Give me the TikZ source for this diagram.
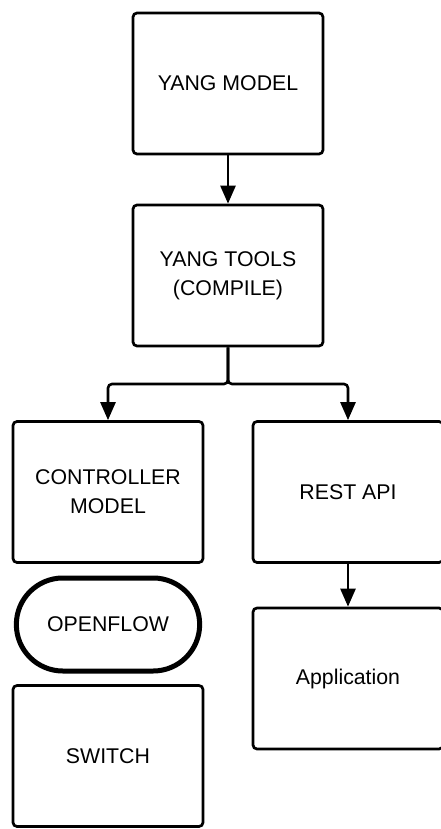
\documentclass[tikz,border=0pt]{standalone}
\usepackage{fontspec}
\setmainfont{Liberation Sans}
\usepackage{tikz}
\usetikzlibrary{positioning, arrows.meta, shapes.misc}

\tikzset{
  block/.style={draw, line width=2.7pt, rounded corners=4pt, minimum width=190pt, minimum height=141pt, align=center, font=\fontsize{21.3}{29}\selectfont},
  pill/.style={draw, line width=5pt, rounded rectangle, minimum width=190pt, minimum height=93pt, align=center, font=\fontsize{21.3}{29}\selectfont},
  link/.style={line width=2.6pt, -{Triangle[length=18pt, width=15pt]}}
}

\begin{document}
\begin{tikzpicture}[x=1pt, y=-1pt]
\useasboundingbox (0,0) rectangle (441,829);
% Boxes
\node[block] (yang) at (228,83.5) {YANG MODEL};
\node[block] (tools) at (228,275.5) {YANG TOOLS\\(COMPILE)};
\node[block] (ctrl) at (108,492) {CONTROLLER\\MODEL};
\node[block] (rest) at (348,492) {REST API};
\node[pill] (openflow) at (108,624.5) {OPENFLOW};
\node[block] (switch) at (108,756) {SWITCH};
\node[block] (app) at (348,678.5) {Application};
% Arrows
\coordinate (split) at (228,384);
\draw[link] (yang) -- (tools);
\draw[link, rounded corners=4pt] (tools.south) -- (split) -| (ctrl.north);
\draw[link, rounded corners=4pt] (tools.south) -- (split) -| (rest.north);
\draw[link] (rest) -- (app);
\end{tikzpicture}
\end{document}
